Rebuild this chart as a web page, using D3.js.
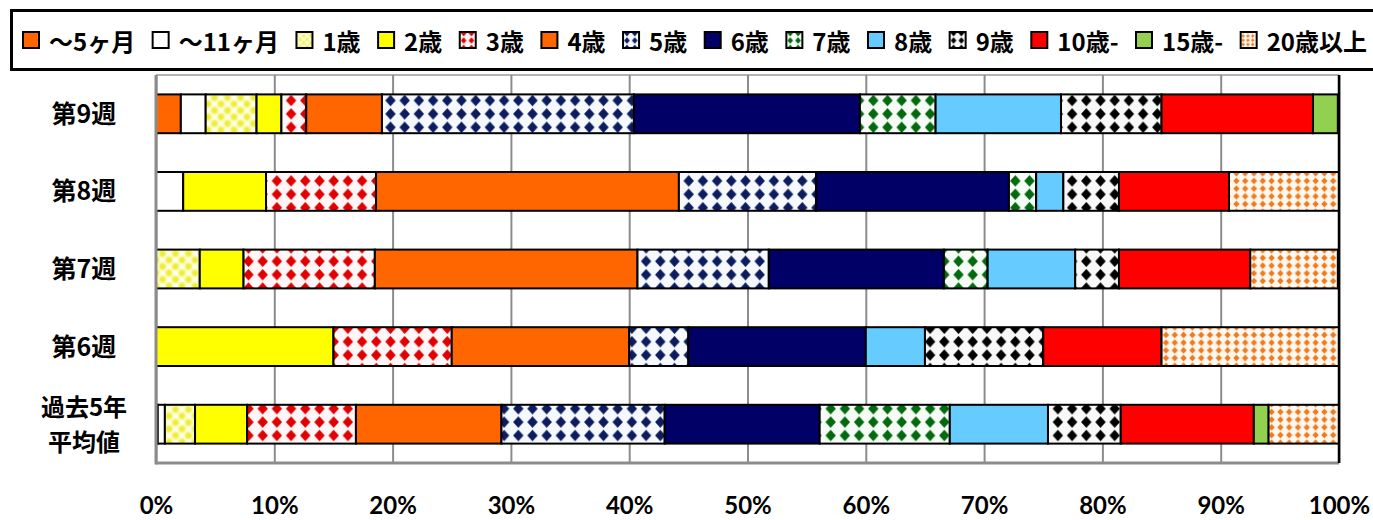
<!DOCTYPE html>
<html>
<head>
<meta charset="utf-8">
<script src="https://cdn.jsdelivr.net/npm/d3@7/dist/d3.min.js"></script>
<style>
  html, body { margin: 0; padding: 0; background: #fff; }
  svg { display: block; }
</style>
</head>
<body>
<svg id="chart" width="1373" height="520"></svg>
<script>
// Age groups (stack order, left to right)
const ageGroups = ["〜5ヶ月", "〜11ヶ月", "1歳", "2歳", "3歳", "4歳", "5歳", "6歳", "7歳", "8歳", "9歳", "10歳-", "15歳-", "20歳以上"];

// Rows, top to bottom
const weeks = ["第9週", "第8週", "第7週", "第6週", "過去5年\n平均値"];

// Share of each age group per row (%), same order as ageGroups
const week9  = [2.1, 2.1, 4.3, 2.1, 2.1, 6.4, 21.3, 19.1, 6.4, 10.6, 8.5, 12.8, 2.1, 0];
const week8  = [0, 2.3, 0, 7.0, 9.3, 25.6, 11.6, 16.3, 2.3, 2.3, 4.7, 9.3, 0, 9.3];
const week7  = [0, 0, 3.7, 3.7, 11.1, 22.2, 11.1, 14.8, 3.7, 7.4, 3.7, 11.1, 0, 7.4];
const week6  = [0, 0, 0, 15, 10, 15, 5, 15, 0, 5, 10, 10, 0, 15];
const avg5y  = [0.15, 0.6, 2.55, 4.4, 9.2, 12.3, 13.8, 13.1, 11.0, 8.3, 6.15, 11.25, 1.25, 5.95];

const rowValues = [week9, week8, week7, week6, avg5y];

// Axis ticks
const tickValues = [0, 10, 20, 30, 40, 50, 60, 70, 80, 90, 100];
const tickLabels = ["0%", "10%", "20%", "30%", "40%", "50%", "60%", "70%", "80%", "90%", "100%"];

// Fill style of each age group: solid colour or a patterned fill
const fills = [
  { type: "solid", color: "#FF6600" },
  { type: "solid", color: "#FFFFFF" },
  { type: "dots", color: "#EDED2A", bg: "#FFFFF4" },
  { type: "solid", color: "#FFFF00" },
  { type: "diamond", color: "#E00000", bg: "#FFF6F8" },
  { type: "solid", color: "#FF6600" },
  { type: "diamond", color: "#0B1F5E", bg: "#F5F8FC" },
  { type: "solid", color: "#000066" },
  { type: "diamond", color: "#006A10", bg: "#F6FBF6" },
  { type: "solid", color: "#66CCFF" },
  { type: "diamond", color: "#000000", bg: "#F8F8F8" },
  { type: "solid", color: "#FF0000" },
  { type: "solid", color: "#92D050" },
  { type: "smallDiamond", color: "#F07A1E", bg: "#FFF8F0" }
];

const svg = d3.select("#chart");
const defs = svg.append("defs");

const soft = defs.append("filter").attr("id", "soft")
  .attr("x", "-20%").attr("y", "-20%").attr("width", "140%").attr("height", "140%");
soft.append("feGaussianBlur").attr("stdDeviation", 0.6);

const softer = defs.append("filter").attr("id", "softer")
  .attr("x", "-40%").attr("y", "-40%").attr("width", "180%").attr("height", "180%");
softer.append("feGaussianBlur").attr("stdDeviation", 1.1);

function diamondPath(cx, cy, rx, ry) {
  return `M${cx},${cy - ry}L${cx + rx},${cy}L${cx},${cy + ry}L${cx - rx},${cy}Z`;
}

function makePattern(id, f, scale) {
  const p = defs.append("pattern").attr("id", id).attr("patternUnits", "userSpaceOnUse");
  if (f.type === "diamond") {
    const w = 14.2 * scale, h = 13.4 * scale;
    p.attr("width", w).attr("height", h);
    p.append("rect").attr("width", w).attr("height", h).attr("fill", f.bg);
    p.append("path").attr("d", diamondPath(w / 2, h / 2, 5.2 * scale, 5.8 * scale))
      .attr("fill", f.color).attr("filter", "url(#soft)");
  } else if (f.type === "smallDiamond") {
    const w = 8.8 * scale, h = 7.7 * scale;
    p.attr("width", w).attr("height", h);
    p.append("rect").attr("width", w).attr("height", h).attr("fill", f.bg);
    p.append("path").attr("d", diamondPath(w / 2, h / 2, 3.2 * scale, 3.4 * scale))
      .attr("fill", f.color).attr("filter", "url(#soft)");
  } else if (f.type === "dots") {
    const w = 13 * scale, h = 13 * scale;
    p.attr("width", w).attr("height", h);
    p.append("rect").attr("width", w).attr("height", h).attr("fill", f.bg);
    const g = p.append("g").attr("filter", "url(#softer)").attr("fill", f.color);
    [[w / 2, h / 2], [0, 0], [w, 0], [0, h], [w, h]].forEach(([cx, cy]) => {
      g.append("circle").attr("cx", cx).attr("cy", cy).attr("r", 3.4 * scale);
    });
  }
  return `url(#${id})`;
}

const barFill = fills.map((f, i) => f.type === "solid" ? f.color : makePattern("pat" + i, f, 1));
const legendFill = fills.map((f, i) => f.type === "solid" ? f.color : makePattern("lpat" + i, f, 0.55));

// Plot area
const plot = { left: 156, right: 1339, top: 75, bottom: 463 };

const x = d3.scaleLinear().domain([0, 100]).range([plot.left, plot.right]);
const y = d3.scaleBand().domain(weeks).range([plot.top, plot.bottom])
  .paddingInner(0.5).paddingOuter(0.25);

// Table of rows for the stack layout
const table = weeks.map((w, r) => {
  const row = { week: w };
  ageGroups.forEach((a, i) => { row[a] = rowValues[r][i]; });
  return row;
});
const series = d3.stack().keys(ageGroups)(table);

// Frame top edge
svg.append("line")
  .attr("x1", plot.left).attr("x2", plot.right)
  .attr("y1", plot.top).attr("y2", plot.top)
  .attr("stroke", "#9a9a9a").attr("stroke-width", 1.5);

// Vertical gridlines
const grid = svg.append("g")
  .attr("transform", `translate(0,${plot.bottom})`)
  .call(d3.axisBottom(x).tickValues(tickValues).tickSize(-(plot.bottom - plot.top)).tickFormat(""));
grid.select(".domain").remove();
grid.selectAll(".tick line").attr("stroke", "#8c8c8c").attr("stroke-width", 2);

// Stacked bars
const layers = svg.append("g").selectAll("g").data(series).join("g")
  .attr("fill", (d, i) => barFill[i]);

layers.selectAll("rect")
  .data(d => d.filter(s => s[1] - s[0] > 0))
  .join("rect")
  .attr("x", d => x(d[0]))
  .attr("y", d => y(d.data.week))
  .attr("width", d => x(d[1]) - x(d[0]))
  .attr("height", y.bandwidth())
  .attr("stroke", "#000")
  .attr("stroke-width", 2);

// Axis lines: grey left and bottom, black right
svg.append("line")
  .attr("x1", plot.left).attr("x2", plot.left)
  .attr("y1", plot.top).attr("y2", plot.bottom + 1.5)
  .attr("stroke", "#8c8c8c").attr("stroke-width", 3);
svg.append("line")
  .attr("x1", plot.left).attr("x2", plot.right)
  .attr("y1", plot.bottom).attr("y2", plot.bottom)
  .attr("stroke", "#8c8c8c").attr("stroke-width", 3);
svg.append("line")
  .attr("x1", plot.right).attr("x2", plot.right)
  .attr("y1", plot.top).attr("y2", plot.bottom)
  .attr("stroke", "#000").attr("stroke-width", 2.5);

// Percentage labels
const xAxis = svg.append("g")
  .attr("transform", `translate(0,${plot.bottom})`)
  .call(d3.axisBottom(x).tickValues(tickValues).tickSize(0)
    .tickFormat((d, i) => tickLabels[i]));
xAxis.select(".domain").remove();
xAxis.selectAll("text")
  .attr("y", 51)
  .attr("dy", 0)
  .style("font-family", "Lato, 'Open Sans', sans-serif")
  .style("font-weight", "700")
  .style("font-size", "24px")
  .attr("fill", "#000");

// Row labels (a "\n" splits a label into stacked lines)
const rowLabels = svg.append("g");
weeks.forEach(d => {
  const lines = d.split("\n");
  const cy = y(d) + y.bandwidth() / 2;
  const multi = lines.length > 1;
  const lh = 35;
  lines.forEach((ln, k) => {
    rowLabels.append("text")
      .attr("text-anchor", "middle")
      .attr("x", 84)
      .attr("y", cy + (k - (lines.length - 1) / 2) * lh + 9)
      .style("font-family", "'Noto Sans CJK JP', sans-serif")
      .style("font-weight", "700")
      .style("font-size", multi ? "24px" : "25px")
      .attr("fill", "#000")
      .text(ln);
  });
});

// Legend box
svg.append("rect")
  .attr("x", 11.5).attr("y", 10.5)
  .attr("width", 1400).attr("height", 59)
  .attr("fill", "#fff").attr("stroke", "#000").attr("stroke-width", 3);

// Legend entries, spread evenly across the box
const legendStart = 23, legendEnd = 1367, textOffset = 26;
const legend = svg.append("g");
const entries = ageGroups.map((name, i) => {
  const g = legend.append("g");
  g.append("rect")
    .attr("y", 32)
    .attr("width", 16).attr("height", 16)
    .attr("fill", legendFill[i])
    .attr("stroke", "#000").attr("stroke-width", 2);
  const t = g.append("text")
    .attr("x", textOffset).attr("y", 51)
    .style("font-family", "'Noto Sans CJK JP', sans-serif")
    .style("font-weight", "700")
    .style("font-size", "24px")
    .attr("fill", "#000")
    .text(name);
  return { g, w: textOffset + t.node().getComputedTextLength() };
});
const totalW = d3.sum(entries, e => e.w);
const gap = (legendEnd - legendStart - totalW) / (entries.length - 1);
let lx = legendStart;
entries.forEach(e => {
  e.g.attr("transform", `translate(${lx},0)`);
  lx += e.w + gap;
});
</script>
</body>
</html>
